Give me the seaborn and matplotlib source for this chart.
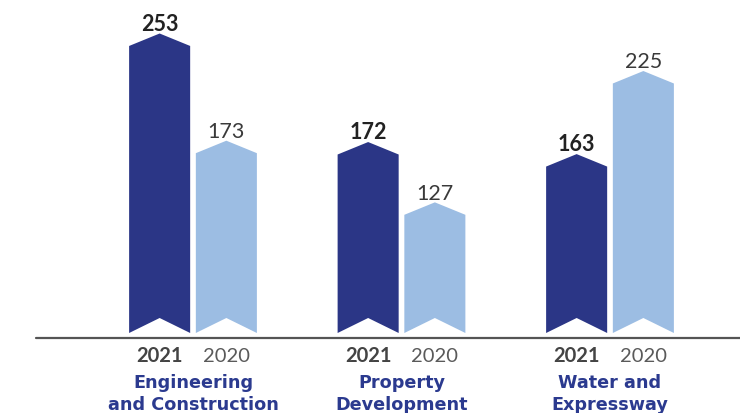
import matplotlib
matplotlib.use("Agg")
import matplotlib.pyplot as plt
from matplotlib.patches import Polygon
import seaborn as sns
import pandas as pd

# Segment profit figures
segments = ["Engineering\nand Construction", "Property\nDevelopment", "Water and\nExpressway"]
years = ["2021", "2020"]
values_2021 = [253, 172, 163]
values_2020 = [173, 127, 225]

colors = {"2021": "#2b3686", "2020": "#9cbde3"}
label_colors = {"2021": "#222222", "2020": "#3a3a3a"}

df = pd.DataFrame({
    "segment": segments * 2,
    "year": ["2021"] * 3 + ["2020"] * 3,
    "value": values_2021 + values_2020,
})

sns.set_theme(style="white")
plt.rcParams["font.family"] = ["Lato", "DejaVu Sans"]

fig = plt.figure(figsize=(7.4, 4.13), dpi=100)
ax = fig.add_axes([0, 0, 1, 1])

sns.barplot(data=df, x="segment", y="value", hue="year", hue_order=years,
            order=segments, palette=colors, saturation=1, width=0.64, gap=0.085,
            legend=False, ax=ax)

base = 29.5      # visible bottom of the ribbons
tip = 9.3        # height of the pointed top
notch = 11.2     # depth of the notch at the bottom

bars = list(ax.patches)
for bar in bars:
    x0 = bar.get_x()
    w = bar.get_width()
    v = bar.get_height()
    xc = x0 + w / 2
    x1 = x0 + w
    fc = bar.get_facecolor()
    bar.remove()
    shape = Polygon([(x0, base), (x0, v - tip), (xc, v), (x1, v - tip),
                     (x1, base), (xc, base + notch)],
                    closed=True, facecolor=fc, edgecolor="none")
    ax.add_patch(shape)

# value labels above each ribbon, year labels under the axis line
for i, seg in enumerate(segments):
    for yr in years:
        v = values_2021[i] if yr == "2021" else values_2020[i]
        xc = i + (-0.16 if yr == "2021" else 0.16)
        ax.annotate(str(v), (xc, v), xytext=(0, 2), textcoords="offset points",
                    ha="center", va="baseline", fontsize=15.5,
                    fontweight="bold" if yr == "2021" else "normal",
                    color=label_colors[yr])
        ax.text(xc, 8.1, yr, ha="center", va="baseline", fontsize=14.5,
                fontweight="bold" if yr == "2021" else "normal",
                color="#444444" if yr == "2021" else "#5a5a5a")
    line1, line2 = seg.split("\n")
    ax.text(i, -11.6, line1, ha="center", va="baseline", fontsize=12.7,
            fontweight="bold", color="#2b3a8f", family=["DejaVu Sans"])
    ax.text(i, -27.6, line2, ha="center", va="baseline", fontsize=12.7,
            fontweight="bold", color="#2b3a8f", family=["DejaVu Sans"])

ax.axhline(25.7, xmin=36 / 740, xmax=1, color="#555555", lw=1.6)

ax.set_xlim(-193 / 208.5, (740 - 193) / 208.5)
ax.set_ylim(-30.2, 278)
ax.set_axis_off()

fig.savefig("out.png", dpi=100)
